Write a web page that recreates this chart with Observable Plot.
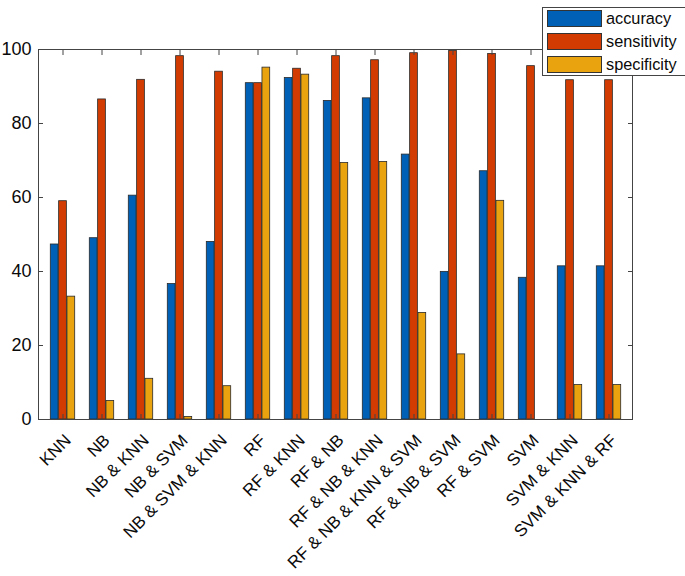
<!DOCTYPE html>
<html>
<head>
<meta charset="utf-8">
<script src="https://cdn.jsdelivr.net/npm/d3@7"></script>
<script src="https://cdn.jsdelivr.net/npm/@observablehq/plot@0.6"></script>
<style>
  body { margin: 0; background: #fff; font-family: "Liberation Sans", Arial, sans-serif; }
  #wrap { position: relative; width: 685px; height: 576px; overflow: hidden; }
  #legend { position: absolute; left: 542px; top: 7px; width: 150px; height: 69px; border: 1px solid #444; background: #fff; box-sizing: border-box; }
  .item { position: absolute; left: 4px; height: 17px; display: flex; align-items: center; }
  .sw { width: 55px; height: 17px; border: 1px solid #333; box-sizing: border-box; margin-right: 4px; }
  .lab { font-size: 16.3px; color: #0a0a0a; line-height: 17px; }
</style>
</head>
<body>
<div id="wrap">
  <div id="chart"></div>
  <div id="legend"></div>
</div>
<script>
const categories = ["KNN", "NB", "NB & KNN", "NB & SVM", "NB & SVM & KNN", "RF", "RF & KNN", "RF & NB", "RF & NB & KNN", "RF & NB & KNN & SVM", "RF & NB & SVM", "RF & SVM", "SVM", "SVM & KNN", "SVM & KNN & RF"];
const accuracy    = [47.3, 49.0, 60.5, 36.6, 48.0, 90.9, 92.3, 86.1, 86.8, 71.6, 39.9, 67.1, 38.3, 41.4, 41.4];
const sensitivity = [59.0, 86.5, 91.8, 98.2, 94.0, 90.9, 94.8, 98.2, 97.1, 99.0, 99.6, 98.8, 95.5, 91.7, 91.7];
const specificity = [33.2, 5.0, 11.0, 0.7, 9.0, 95.1, 93.2, 69.3, 69.6, 28.8, 17.6, 59.1, 0, 9.3, 9.3];
const seriesNames = ["accuracy", "sensitivity", "specificity"];
const seriesColors = ["#0060B6", "#D23C02", "#E9A30E"];
const yTicks = [0, 20, 40, 60, 80, 100];

const seriesValues = [accuracy, sensitivity, specificity];

const W = 685, H = 576;
const mL = 38, mR = 53, mT = 49, mB = 157;
const step = (W - mL - mR) / categories.length;
const groupW = 25, barW = groupW / 3;

const marks = seriesValues.map((vals, i) => {
  const data = categories.map((c, j) => ({cat: c, value: vals[j]}));
  const insetLeft = (step - groupW) / 2 + i * barW;
  const insetRight = step - insetLeft - barW;
  return Plot.barY(data, {
    x: "cat", y: "value",
    fill: seriesColors[i], stroke: "#2a2a2a", strokeWidth: 0.8,
    insetLeft, insetRight
  });
});

const chart = Plot.plot({
  width: W, height: H,
  marginLeft: mL, marginRight: mR, marginTop: mT, marginBottom: mB,
  style: {fontFamily: "Liberation Sans, Arial, sans-serif", color: "#0a0a0a", background: "#fff"},
  x: {domain: categories, padding: 0, label: null},
  y: {domain: [0, 100], label: null},
  marks: [
    ...marks,
    Plot.frame({stroke: "#444", strokeWidth: 1}),
    Plot.axisY(yTicks, {anchor: "left", tickSize: 0, tickPadding: 7, fontSize: 18, label: null}),
    Plot.axisY(yTicks, {anchor: "left", tickSize: -5, fill: "none", stroke: "#444", label: null}),
    Plot.axisY(yTicks, {anchor: "right", tickSize: -5, fill: "none", stroke: "#444", label: null}),
    Plot.axisX({anchor: "bottom", tickSize: 0, tickPadding: 18, dx: 5, tickRotate: -45, fontSize: 17, label: null}),
    Plot.axisX({anchor: "bottom", tickSize: -5, fill: "none", stroke: "#444", label: null}),
    Plot.axisX({anchor: "top", tickSize: -5, fill: "none", stroke: "#444", label: null})
  ]
});
document.getElementById("chart").appendChild(chart);

const legend = document.getElementById("legend");
seriesNames.forEach((name, i) => {
  const item = document.createElement("div");
  item.className = "item";
  item.style.top = (2 + i * 23) + "px";
  const sw = document.createElement("div");
  sw.className = "sw";
  sw.style.background = seriesColors[i];
  const lab = document.createElement("span");
  lab.className = "lab";
  lab.textContent = name;
  item.appendChild(sw);
  item.appendChild(lab);
  legend.appendChild(item);
});
</script>
</body>
</html>
